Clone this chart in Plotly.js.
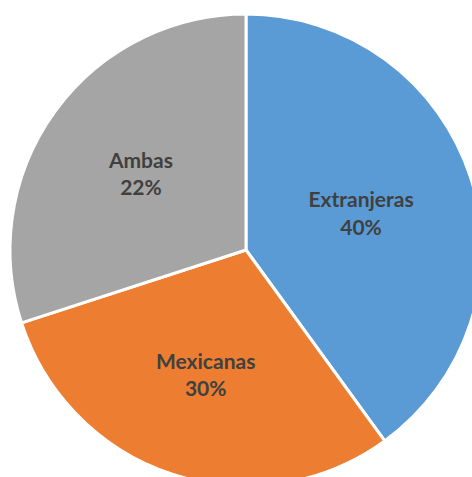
<!DOCTYPE html>
<html>
<head>
<meta charset="utf-8">
<script src="https://cdn.plot.ly/plotly-3.0.1.min.js"></script>
<style>
html,body{margin:0;padding:0;overflow:hidden;background:#fff;width:472px;height:477px;}
#chart{width:492px;height:500px;}
</style>
</head>
<body>
<div id="chart"></div>
<script>
var categories = ["Extranjeras", "Mexicanas", "Ambas"];
var sliceValues = [40, 30, 30];
var shownPercents = ["40%", "30%", "22%"];
var sliceColors = ["#5B9BD5", "#ED7D31", "#A5A5A5"];

var trace = {
  type: "pie",
  labels: categories,
  values: sliceValues,
  customdata: shownPercents,
  texttemplate: "%{label}<br>%{customdata}",
  textposition: "inside",
  insidetextorientation: "horizontal",
  sort: false,
  direction: "clockwise",
  rotation: 0,
  hoverinfo: "none",
  marker: {colors: sliceColors, line: {color: "#FFFFFF", width: 3}},
  textfont: {family: "Lato, 'Open Sans', sans-serif", size: 21, color: "#404040", weight: "bold"},
  insidetextfont: {family: "Lato, 'Open Sans', sans-serif", size: 21, color: "#404040", weight: "bold"}
};

var layout = {
  width: 492,
  height: 500,
  margin: {l: 10, r: 10, t: 14, b: 14},
  showlegend: false,
  paper_bgcolor: "#FFFFFF",
  plot_bgcolor: "#FFFFFF",
  uniformtext: {mode: false}
};

Plotly.newPlot("chart", [trace], layout, {displayModeBar: false, staticPlot: true});
</script>
</body>
</html>
